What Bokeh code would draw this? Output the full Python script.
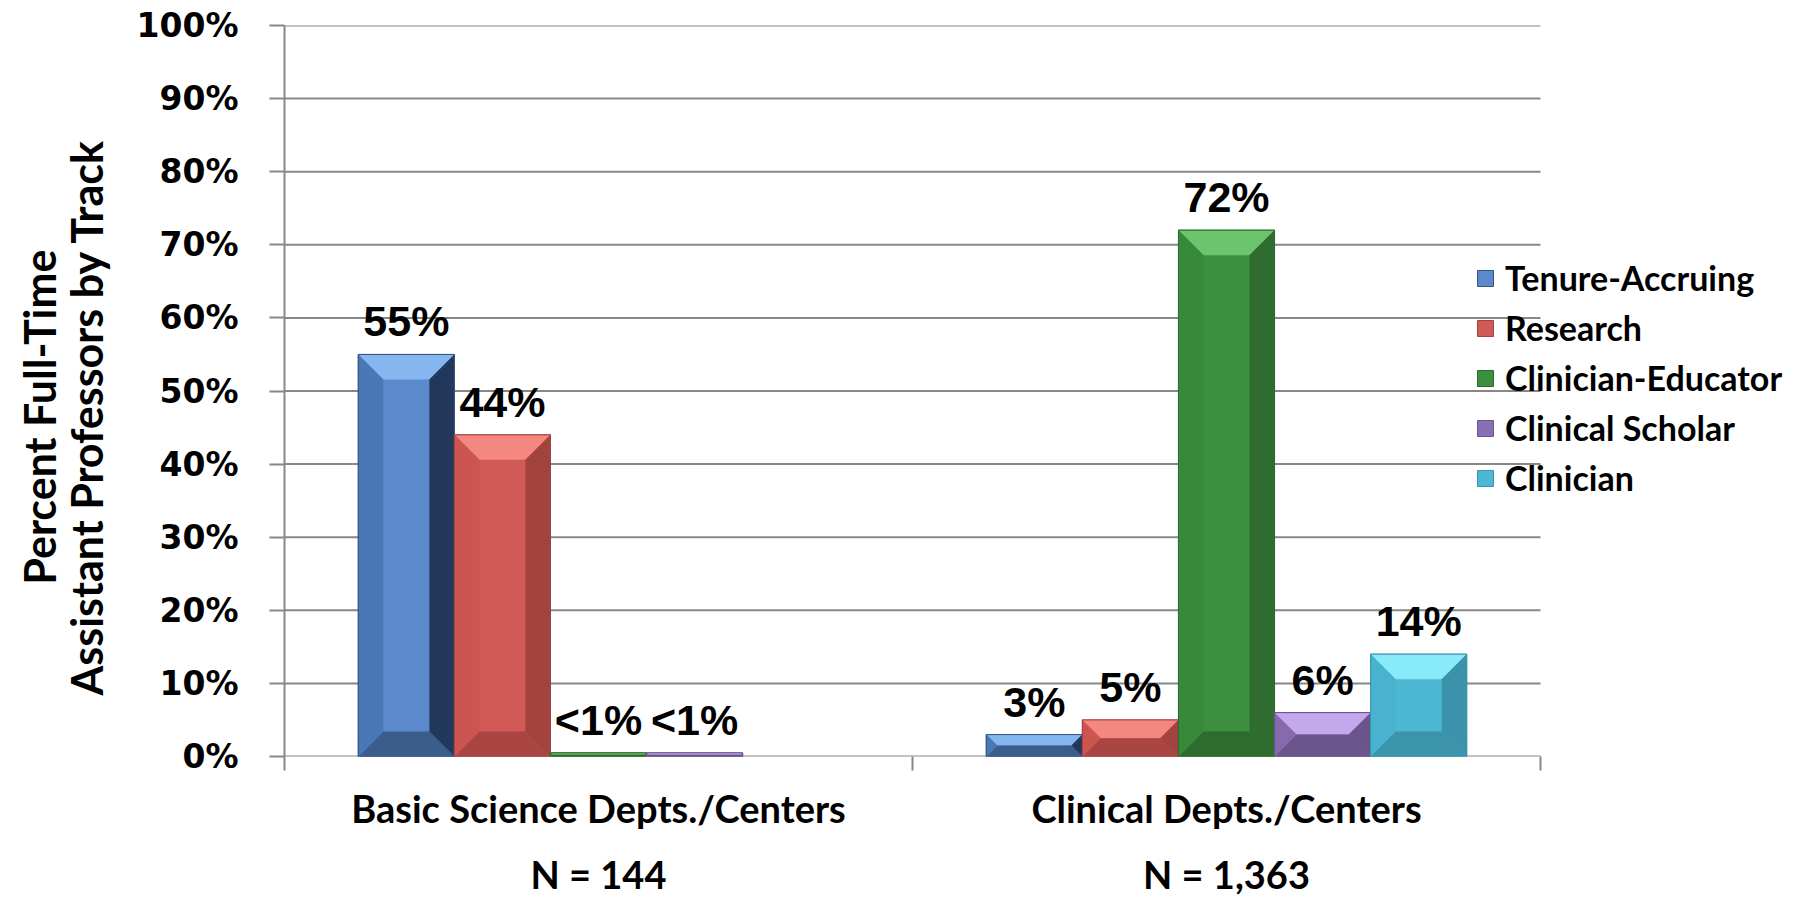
from bokeh.plotting import figure
from bokeh.models import Range1d, FixedTicker, LinearAxis, Legend, LegendItem, ColumnDataSource
from bokeh.core.properties import value
from bokeh.embed import file_html
from bokeh.resources import INLINE

# ---------------- data ----------------
categories = ["Basic Science Depts./Centers", "Clinical Depts./Centers"]
n_labels = ["N = 144", "N = 1,363"]
tracks = ["Tenure-Accruing", "Research", "Clinician-Educator", "Clinical Scholar", "Clinician"]
basic_values = [55, 44, 0.5, 0.5, 0]
clinical_values = [3, 5, 72, 6, 14]
basic_labels = ["55%", "44%", "<1%", "<1%", ""]
clinical_labels = ["3%", "5%", "72%", "6%", "14%"]
y_ticks = [0, 10, 20, 30, 40, 50, 60, 70, 80, 90, 100]
y_tick_labels = ["0%", "10%", "20%", "30%", "40%", "50%", "60%", "70%", "80%", "90%", "100%"]
y_title_lines = ["Percent Full-Time", "Assistant Professors by Track"]

# ---------------- style ----------------
W, H = 1802, 899
FL, FR, FT, FB = 284, 1540, 25, 756
N_CAT = len(categories)
X_END = N_CAT * (W - FL) / (FR - FL)   # frame extends to right edge so the legend is not clipped
BAR_W = 0.153
BEVEL = 25
GRID = "#878787"
CAL = "Lato"
PAD = "\u00a0" * 5  # shifts the rotated title slightly downward like the reference

styles = [
    dict(face="#5A8ACB", top="#86B6F0", bottom="#3A5D8C", left="#4A78B6", right="#22385A", edge="#35557F"),
    dict(face="#D15A56", top="#F4877F", bottom="#A94643", left="#CC5551", right="#A2433F", edge="#A04440"),
    dict(face="#3B8F3D", top="#6CC46C", bottom="#2C6C2E", left="#388A3A", right="#2E6C30", edge="#2C6C2E"),
    dict(face="#8B6FB3", top="#C4A8EC", bottom="#6A558C", left="#866AAD", right="#6A548C", edge="#6A558C"),
    dict(face="#4DB8D4", top="#88EAFB", bottom="#3B93AC", left="#49B2CE", right="#3C92AA", edge="#3B93AC"),
]

px_x = (FR - FL) / float(N_CAT)
px_y = (FB - FT) / 100.0

p = figure(width=W, height=H, x_range=Range1d(0, X_END), y_range=Range1d(0, 100),
           output_backend="svg", toolbar_location=None, x_axis_type=None,
           min_border_left=FL, min_border_right=0, min_border_top=FT,
           min_border_bottom=H - FB, outline_line_color=None,
           background_fill_color="white", border_fill_color="white")

# grid (drawn as segments so that it stops at the end of the category area)
p.ygrid.visible = False
p.segment(x0=[0] * len(y_ticks), x1=[N_CAT] * len(y_ticks), y0=y_ticks, y1=y_ticks,
          line_color=GRID, line_width=2)

# y axis
ya = p.yaxis[0]
ya.ticker = FixedTicker(ticks=y_ticks, minor_ticks=[])
ya.major_label_overrides = {t: l for t, l in zip(y_ticks, y_tick_labels)}
ya.major_label_text_font = "DejaVu Sans"
ya.major_label_text_font_style = "bold"
ya.major_label_text_font_size = "33px"
ya.major_label_text_color = "black"
ya.major_label_standoff = 31
ya.axis_line_color = GRID
ya.axis_line_width = 2
ya.major_tick_line_color = GRID
ya.major_tick_line_width = 2
ya.major_tick_out = 15
ya.major_tick_in = 0
ya.axis_label = "\n".join(line + PAD for line in y_title_lines)
ya.axis_label_text_font = CAL
ya.axis_label_text_font_style = "bold"
ya.axis_label_text_font_size = "43px"
ya.axis_label_text_line_height = 0.91
ya.axis_label_text_color = "black"
ya.axis_label_standoff = 22

# x axes
xa = LinearAxis(ticker=FixedTicker(ticks=[0.5, 1.5], minor_ticks=[0, 1, 2]),
                major_label_overrides={0.5: categories[0], 1.5: categories[1]})
xa.axis_line_color = None
xa.major_tick_out = 0
xa.major_tick_in = 0
xa.minor_tick_out = 14
xa.minor_tick_in = 0
xa.minor_tick_line_color = GRID
xa.minor_tick_line_width = 2
xa.major_label_text_font = CAL
xa.major_label_text_font_style = "bold"
xa.major_label_text_font_size = "38px"
xa.major_label_text_color = "black"
xa.major_label_standoff = 14
p.add_layout(xa, "below")

xn = LinearAxis(ticker=FixedTicker(ticks=[0.5, 1.5], minor_ticks=[]),
                major_label_overrides={0.5: n_labels[0], 1.5: n_labels[1]})
xn.axis_line_color = None
xn.major_tick_line_color = None
xn.minor_tick_line_color = None
xn.major_label_text_font = CAL
xn.major_label_text_font_style = "bold"
xn.major_label_text_font_size = "38px"
xn.major_label_text_color = "black"
xn.major_label_standoff = 11
p.add_layout(xn, "below")

values_by_cat = [basic_values, clinical_values]
labels_by_cat = [basic_labels, clinical_labels]

legend_items = []
for k, track in enumerate(tracks):
    st = styles[k]
    xs_c, tops, labs = [], [], []
    for i in range(N_CAT):
        v = values_by_cat[i][k]
        if v <= 0:
            continue
        xs_c.append(i + 0.5 + (k - 2) * BAR_W)
        tops.append(v)
        labs.append(labels_by_cat[i][k])
    src = ColumnDataSource(dict(x=xs_c, top=tops, label=labs))
    r = p.vbar(x="x", top="top", bottom=0, width=BAR_W, source=src,
               fill_color=st["face"], line_color=st["edge"], line_width=1)
    legend_items.append(LegendItem(label=track, renderers=[r]))

    # bevel facets derived from the bar values
    facets = {"top": ([], []), "bottom": ([], []), "left": ([], []), "right": ([], [])}
    for xc, v in zip(xs_c, tops):
        x0, x1 = xc - BAR_W / 2, xc + BAR_W / 2
        y0, y1 = 0.0, v
        bpx = min(BEVEL, (v * px_y) / 2.0, (BAR_W * px_x) / 2.0)
        bx = bpx / px_x
        by = bpx / px_y
        facets["top"][0].append([x0, x1, x1 - bx, x0 + bx])
        facets["top"][1].append([y1, y1, y1 - by, y1 - by])
        facets["bottom"][0].append([x0, x1, x1 - bx, x0 + bx])
        facets["bottom"][1].append([y0, y0, y0 + by, y0 + by])
        facets["left"][0].append([x0, x0, x0 + bx, x0 + bx])
        facets["left"][1].append([y0, y1, y1 - by, y0 + by])
        facets["right"][0].append([x1, x1, x1 - bx, x1 - bx])
        facets["right"][1].append([y0, y1, y1 - by, y0 + by])
    for name, (fx, fy) in facets.items():
        if fx:
            p.patches(xs=fx, ys=fy, fill_color=st[name], line_color=None)
    p.vbar(x="x", top="top", bottom=0, width=BAR_W, source=src,
           fill_color=None, line_color=st["edge"], line_width=1)

    p.text(x="x", y="top", text="label", source=src,
           text_font=value("Liberation Sans"), text_font_style="bold",
           text_font_size="43px", text_color="black",
           text_align="center", text_baseline="alphabetic", y_offset=-33)

legend = Legend(items=legend_items, location=(1191, 258), orientation="vertical",
                border_line_color=None, background_fill_alpha=0, padding=0, margin=0,
                spacing=9, glyph_width=20, glyph_height=20, label_standoff=10,
                label_height=30, label_text_font=CAL, label_text_font_style="bold",
                label_text_font_size="34px", label_text_color="black")
p.add_layout(legend, "center")

open("out.html", "w").write(file_html(p, INLINE))
